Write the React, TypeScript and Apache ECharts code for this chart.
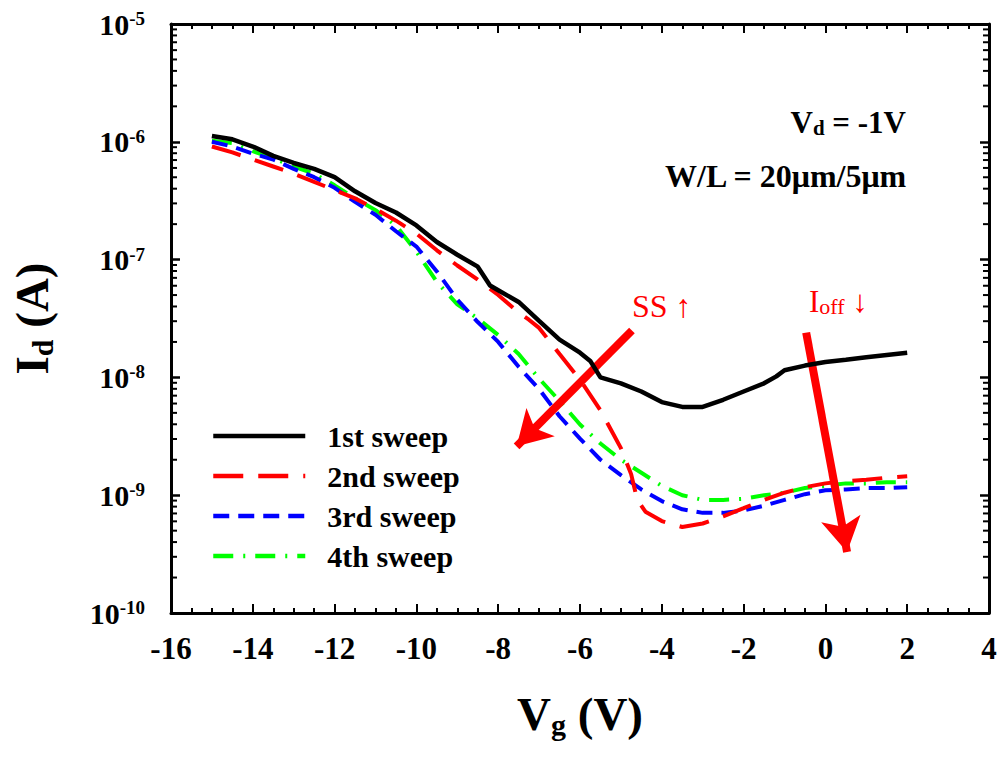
import React, { useEffect, useRef } from "react";
import * as echarts from "echarts";

// Gate voltage (V) and drain current (A) for each sweep
const vg1 = [-15, -14.5, -14, -13.5, -13, -12.5, -12, -11.5, -11, -10.5, -10, -9.5, -9, -8.5, -8.2, -8, -7.5, -7, -6.5, -6, -5.75, -5.5, -5, -4.5, -4, -3.5, -3, -2.5, -2, -1.5, -1.2, -1, -0.5, 0, 0.5, 1, 1.5, 2];
const id1 = [1.12e-6, 1.05e-6, 9.12e-7, 7.59e-7, 6.61e-7, 5.89e-7, 5.01e-7, 3.8e-7, 3.02e-7, 2.51e-7, 1.95e-7, 1.41e-7, 1.1e-7, 8.71e-8, 6.03e-8, 5.5e-8, 4.37e-8, 3.02e-8, 2.09e-8, 1.62e-8, 1.38e-8, 1.0e-8, 8.91e-9, 7.59e-9, 6.17e-9, 5.62e-9, 5.62e-9, 6.46e-9, 7.59e-9, 8.91e-9, 1.02e-8, 1.15e-8, 1.26e-8, 1.35e-8, 1.41e-8, 1.48e-8, 1.55e-8, 1.62e-8];

const vg2 = [-15, -14.5, -14, -13.5, -13, -12.5, -12, -11.5, -11, -10.5, -10, -9.5, -9, -8.5, -8, -7.5, -7.25, -7, -6.5, -6, -5.5, -5, -4.75, -4.6, -4.4, -4, -3.5, -3, -2.5, -2, -1.5, -1, -0.5, 0, 0.5, 1, 1.5, 2];
const id2 = [9.12e-7, 8.13e-7, 7.08e-7, 6.17e-7, 5.37e-7, 4.57e-7, 3.89e-7, 3.31e-7, 2.69e-7, 2.14e-7, 1.66e-7, 1.2e-7, 8.91e-8, 6.76e-8, 5.01e-8, 3.55e-8, 3.09e-8, 2.63e-8, 1.58e-8, 9.55e-9, 5.25e-9, 2.51e-9, 1.51e-9, 9.12e-10, 7.24e-10, 6.03e-10, 5.37e-10, 5.75e-10, 6.61e-10, 7.76e-10, 9.12e-10, 1.05e-9, 1.17e-9, 1.26e-9, 1.32e-9, 1.35e-9, 1.41e-9, 1.45e-9];

const vg3 = [-15, -14.5, -14, -13.5, -13, -12.5, -12, -11.5, -11, -10.5, -10, -9.5, -9, -8.5, -8, -7.5, -7, -6.5, -6, -5.5, -5, -4.5, -4, -3.5, -3, -2.5, -2, -1.5, -1, -0.5, 0, 0.5, 1, 1.5, 2];
const id3 = [1.0e-6, 9.12e-7, 7.94e-7, 7.08e-7, 5.89e-7, 5.01e-7, 4.07e-7, 3.09e-7, 2.4e-7, 1.74e-7, 1.29e-7, 7.94e-8, 4.57e-8, 2.95e-8, 2.0e-8, 1.23e-8, 7.94e-9, 4.68e-9, 3.02e-9, 2.0e-9, 1.48e-9, 1.12e-9, 8.91e-10, 7.59e-10, 7.08e-10, 7.08e-10, 7.41e-10, 8.13e-10, 9.12e-10, 1.02e-9, 1.1e-9, 1.12e-9, 1.15e-9, 1.15e-9, 1.17e-9];

const vg4 = [-15, -14.5, -14, -13.5, -13, -12.5, -12, -11.5, -11, -10.5, -10, -9.5, -9, -8.5, -8, -7.5, -7, -6.5, -6, -5.5, -5, -4.5, -4, -3.5, -3, -2.5, -2, -1.5, -1, -0.5, 0, 0.5, 1, 1.5, 2];
const id4 = [1.02e-6, 9.77e-7, 8.32e-7, 7.24e-7, 6.17e-7, 5.37e-7, 4.27e-7, 3.31e-7, 2.63e-7, 1.95e-7, 1.17e-7, 6.46e-8, 4.17e-8, 3.16e-8, 2.29e-8, 1.58e-8, 9.77e-9, 6.31e-9, 3.98e-9, 2.75e-9, 2.0e-9, 1.55e-9, 1.2e-9, 1.0e-9, 9.12e-10, 9.12e-10, 9.33e-10, 1.0e-9, 1.05e-9, 1.15e-9, 1.2e-9, 1.26e-9, 1.26e-9, 1.29e-9, 1.29e-9];

const seriesNames = ["1st sweep", "2nd sweep", "3rd sweep", "4th sweep"];

// Log minor tick values
const minorMantissas = [2, 3, 4, 5, 6, 7, 8, 9];
const decades = [-10, -9, -8, -7, -6];

// Annotation arrows [start, end] in data coordinates
const ssArrow = [[-4.73, 2.5e-8], [-7.55, 2.6e-9]];
const ioffArrow = [[-0.47, 2.4e-8], [0.53, 3.3e-10]];

const FONT = "'Liberation Serif', 'Times New Roman', serif";

const zip = (xs: number[], ys: number[]) => xs.map((x, i) => [x, ys[i]]);

export default function App() {
  const ref = useRef<HTMLDivElement>(null);

  useEffect(() => {
    if (!ref.current) return;
    const chart = echarts.init(ref.current, null, { renderer: "svg" });

    const minorVals: number[][] = [];
    decades.forEach((d) => minorMantissas.forEach((m) => minorVals.push([-16, m * Math.pow(10, d)])));

    const supLabel = (v: number) => {
      const e = Math.round(Math.log10(v));
      return `{b|10}{s|${e}}`;
    };

    const arrowMark = (pts: number[][]) => ({
      silent: true,
      symbol: ["none", "arrow"],
      symbolSize: [30, 34],
      label: { show: false },
      lineStyle: { color: "#ff0000", width: 8, type: "solid" },
      itemStyle: { color: "#ff0000" },
      emphasis: { disabled: true },
      data: [[{ coord: pts[0] }, { coord: pts[1] }]],
    });

    const option: any = {
      animation: false,
      backgroundColor: "#ffffff",
      textStyle: { fontFamily: FONT },
      grid: { left: 171, right: 11, top: 24, bottom: 145, containLabel: false },
      legend: {
        data: seriesNames,
        orient: "vertical",
        left: 206,
        top: 416,
        itemWidth: 92,
        itemHeight: 16,
        itemGap: 10,
        itemStyle: { color: "rgba(0,0,0,0)", borderColor: "rgba(0,0,0,0)", borderWidth: 0, opacity: 0 },
        lineStyle: { width: 4.5 },
        textStyle: {
          fontFamily: FONT,
          fontWeight: "bold",
          fontSize: 30,
          color: "#000",
          padding: [0, 0, 0, 17],
          lineHeight: 29,
        },
        selectedMode: false,
      },
      xAxis: [
        {
          type: "value",
          min: -16,
          max: 4,
          interval: 2,
          position: "bottom",
          axisLine: { show: true, onZero: false, lineStyle: { color: "#000", width: 3 } },
          axisTick: { show: true, inside: true, length: 9, lineStyle: { color: "#000", width: 2 } },
          minorTick: { show: true, splitNumber: 4, length: 5, lineStyle: { color: "#000", width: 2 } },
          splitLine: { show: false },
          axisLabel: { fontFamily: FONT, fontWeight: "bold", fontSize: 31, color: "#000", margin: 20 },
          name: "{b|V}{sub|g}{b| (V)}",
          nameLocation: "middle",
          nameGap: 76,
          nameTextStyle: {
            rich: {
              b: { fontFamily: FONT, fontWeight: "bold", fontSize: 47, color: "#000", lineHeight: 50 },
              sub: { fontFamily: FONT, fontWeight: "bold", fontSize: 30, color: "#000", verticalAlign: "bottom", lineHeight: 30 },
            },
          },
        },
        {
          type: "value",
          min: -16,
          max: 4,
          interval: 2,
          position: "top",
          axisLine: { show: true, onZero: false, lineStyle: { color: "#000", width: 3 } },
          axisTick: { show: true, inside: true, length: 9, lineStyle: { color: "#000", width: 2 } },
          minorTick: { show: true, splitNumber: 4, length: 5, lineStyle: { color: "#000", width: 2 } },
          splitLine: { show: false },
          axisLabel: { show: false },
        },
      ],
      yAxis: [
        {
          type: "log",
          logBase: 10,
          min: 1e-10,
          max: 1e-5,
          position: "left",
          axisLine: { show: true, onZero: false, lineStyle: { color: "#000", width: 3 } },
          axisTick: { show: true, inside: true, length: 9, lineStyle: { color: "#000", width: 2.5 } },
          splitLine: { show: false },
          axisLabel: {
            margin: 26,
            formatter: supLabel,
            rich: {
              b: { fontFamily: FONT, fontWeight: "bold", fontSize: 30, color: "#000", lineHeight: 30 },
              s: { fontFamily: FONT, fontWeight: "bold", fontSize: 19, color: "#000", verticalAlign: "top", lineHeight: 18 },
            },
          },
          name: "{b|I}{sub|d}{b| (A)}",
          nameLocation: "middle",
          nameRotate: 90,
          nameGap: 114,
          nameTextStyle: {
            rich: {
              b: { fontFamily: FONT, fontWeight: "bold", fontSize: 47, color: "#000", lineHeight: 50 },
              sub: { fontFamily: FONT, fontWeight: "bold", fontSize: 30, color: "#000", verticalAlign: "bottom", lineHeight: 30 },
            },
          },
        },
        {
          type: "log",
          logBase: 10,
          min: 1e-10,
          max: 1e-5,
          position: "right",
          axisLine: { show: true, onZero: false, lineStyle: { color: "#000", width: 3 } },
          axisTick: { show: true, inside: true, length: 9, lineStyle: { color: "#000", width: 2.5 } },
          splitLine: { show: false },
          axisLabel: { show: false },
        },
      ],
      graphic: [
        {
          type: "text",
          right: 94,
          top: 107,
          style: {
            text: "{b|V}{sub|d}{b| = -1V}",
            rich: {
              b: { fontFamily: FONT, fontWeight: "bold", fontSize: 31, fill: "#000", lineHeight: 32 },
              sub: { fontFamily: FONT, fontWeight: "bold", fontSize: 21, fill: "#000", verticalAlign: "bottom", lineHeight: 20 },
            },
          },
        },
        {
          type: "text",
          right: 92,
          top: 160,
          style: {
            text: "W/L = 20μm/5μm",
            fontFamily: FONT,
            fontWeight: "bold",
            fontSize: 32,
            fill: "#000",
          },
        },
        {
          type: "text",
          left: 632,
          top: 290,
          style: {
            text: "SS ↑",
            fontFamily: FONT,
            fontSize: 32,
            fill: "#ff0000",
          },
        },
        {
          type: "text",
          left: 809,
          top: 286,
          style: {
            text: "{a|I}{s|off}{a| ↓}",
            rich: {
              a: { fontFamily: FONT, fontSize: 31, fill: "#ff0000", lineHeight: 32 },
              s: { fontFamily: FONT, fontSize: 22, fill: "#ff0000", verticalAlign: "bottom", lineHeight: 22 },
            },
          },
        },
      ],
      series: [
        {
          name: seriesNames[0],
          type: "line",
          data: zip(vg1, id1),
          symbol: "none",
          color: "#000000",
          lineStyle: { color: "#000000", width: 4.5, type: "solid" },
          z: 5,
        },
        {
          name: seriesNames[1],
          type: "line",
          data: zip(vg2, id2),
          symbol: "none",
          color: "#ff0000",
          lineStyle: { color: "#ff0000", width: 4, type: [30, 15] },
          z: 4,
        },
        {
          name: seriesNames[2],
          type: "line",
          data: zip(vg3, id3),
          symbol: "none",
          color: "#0000ff",
          lineStyle: { color: "#0000ff", width: 4, type: [16, 9] },
          z: 3,
        },
        {
          name: seriesNames[3],
          type: "line",
          data: zip(vg4, id4),
          symbol: "none",
          color: "#00ff00",
          lineStyle: { color: "#00ff00", width: 4, type: [20, 10, 2, 10] },
          z: 2,
        },
        {
          name: "arrows",
          type: "line",
          data: [],
          symbol: "none",
          z: 6,
          markLine: arrowMark(ssArrow),
        },
        {
          name: "arrows2",
          type: "line",
          data: [],
          symbol: "none",
          z: 6,
          markLine: arrowMark(ioffArrow),
        },
        {
          name: "minorTicks",
          type: "custom",
          silent: true,
          data: minorVals,
          clip: false,
          renderItem: (params: any, api: any) => {
            const v = api.value(1);
            const l = api.coord([-16, v]);
            const r = api.coord([4, v]);
            return {
              type: "group",
              children: [
                { type: "line", shape: { x1: l[0], y1: l[1], x2: l[0] + 6, y2: l[1] }, style: { stroke: "#000", lineWidth: 2 } },
                { type: "line", shape: { x1: r[0], y1: r[1], x2: r[0] - 6, y2: r[1] }, style: { stroke: "#000", lineWidth: 2 } },
              ],
            };
          },
        },
      ],
    };

    chart.setOption(option);
    return () => chart.dispose();
  }, []);

  return (
    <div
      ref={ref}
      style={{ position: "fixed", left: 0, top: 0, width: 1000, height: 758, background: "#fff" }}
    />
  );
}
